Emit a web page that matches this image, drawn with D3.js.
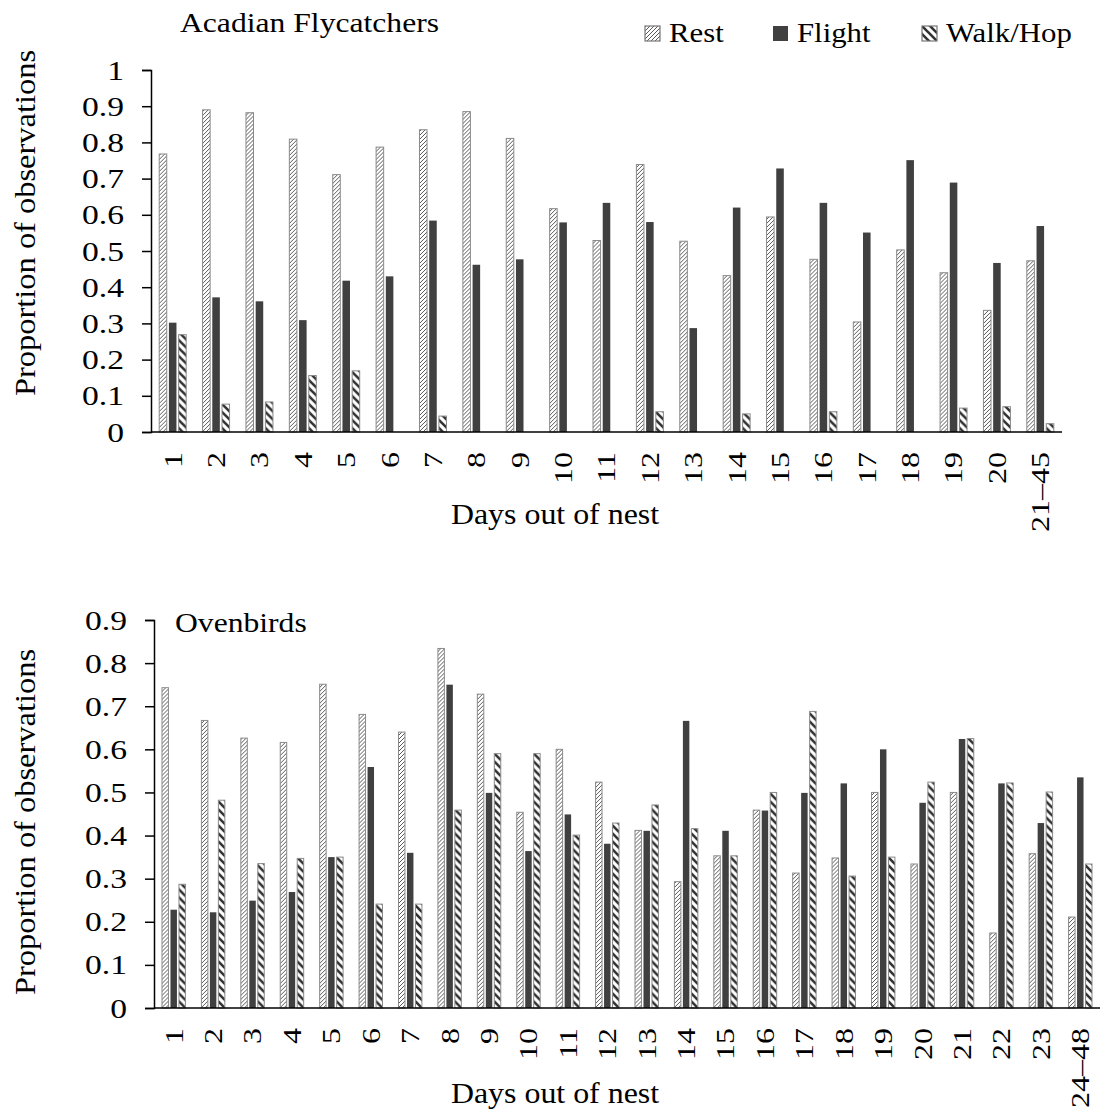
<!DOCTYPE html>
<html>
<head>
<meta charset="utf-8">
<script src="https://cdn.jsdelivr.net/npm/d3@7"></script>
<style>
  body { margin: 0; background: #fff; }
  text { font-family: "Liberation Serif", "Times New Roman", serif; fill: #000; }
</style>
</head>
<body>
<script>
// Acadian Flycatchers
var acadianDays = ['1','2','3','4','5','6','7','8','9','10','11','12','13','14','15','16','17','18','19','20','21–45'];
var acadianRest = [0.768,0.890,0.882,0.809,0.711,0.787,0.835,0.885,0.811,0.617,0.529,0.739,0.527,0.432,0.594,0.477,0.304,0.503,0.440,0.336,0.473];
var acadianFlight = [0.302,0.372,0.361,0.309,0.418,0.430,0.584,0.462,0.477,0.579,0.633,0.580,0.287,0.620,0.728,0.633,0.551,0.751,0.689,0.467,0.569];
var acadianWalk = [0.269,0.077,0.083,0.156,0.169,0,0.044,0,0,0,0,0.056,0,0.050,0,0.056,0,0,0.066,0.070,0.023];
var acadianTicks = [0,0.1,0.2,0.3,0.4,0.5,0.6,0.7,0.8,0.9,1];

// Ovenbirds
var ovenDays = ['1','2','3','4','5','6','7','8','9','10','11','12','13','14','15','16','17','18','19','20','21','22','23','24–48'];
var ovenRest = [0.743,0.667,0.626,0.616,0.751,0.681,0.640,0.834,0.728,0.454,0.600,0.524,0.412,0.293,0.353,0.459,0.313,0.348,0.500,0.334,0.500,0.174,0.358,0.211];
var ovenFlight = [0.228,0.222,0.249,0.269,0.350,0.559,0.360,0.750,0.499,0.364,0.449,0.381,0.411,0.666,0.411,0.458,0.499,0.521,0.600,0.476,0.624,0.521,0.429,0.535];
var ovenWalk = [0.287,0.482,0.335,0.347,0.350,0.241,0.241,0.459,0.590,0.590,0.401,0.429,0.471,0.416,0.353,0.500,0.688,0.306,0.350,0.524,0.625,0.522,0.501,0.334];
var ovenTicks = [0,0.1,0.2,0.3,0.4,0.5,0.6,0.7,0.8,0.9];

var seriesNames = ['Rest','Flight','Walk/Hop'];

var svg = d3.select('body').append('svg').attr('width', 1107).attr('height', 1116);

// fill patterns
var defs = svg.append('defs');
var pRest = defs.append('pattern').attr('id','pRest')
	.attr('patternUnits','userSpaceOnUse').attr('width',4).attr('height',4);
pRest.append('rect').attr('width',4).attr('height',4).attr('fill','#fff');
pRest.append('path').attr('d','M-1,1 L1,-1 M0,4 L4,0 M3,5 L5,3')
	.attr('stroke','#5a5a5a').attr('stroke-width',1);

var pWalk = defs.append('pattern').attr('id','pWalk')
	.attr('patternUnits','userSpaceOnUse').attr('width',8).attr('height',8);
pWalk.append('rect').attr('width',8).attr('height',8).attr('fill','#fff');
pWalk.append('path').attr('d','M-2,-2 L10,10 M-2,6 L2,10 M6,-2 L10,2')
	.attr('stroke','#333').attr('stroke-width',2.6);

var fills = ['url(#pRest)', '#404040', 'url(#pWalk)'];
var strokes = ['#8a8a8a', 'none', '#8a8a8a'];

// text with the glyphs a bit wider than Liberation Serif draws them
function wideText(parent, x, y, rot, size, stretch, anchor, str) {
	return parent.append('g')
		.attr('transform', 'translate(' + x + ',' + y + ') rotate(' + rot + ') scale(' + stretch + ',1)')
		.append('text')
			.attr('text-anchor', anchor)
			.attr('font-size', size)
			.text(str);
}

function drawPanel(cfg) {
	var g = svg.append('g');
	var x = d3.scaleBand().domain(cfg.days).range([cfg.x0, cfg.x1]).paddingInner(cfg.pad).paddingOuter(cfg.pad / 2);
	var xs = d3.scaleBand().domain(seriesNames).range([0, x.bandwidth()]).paddingInner(0.12);
	var y = d3.scaleLinear().domain([0, cfg.max]).range([cfg.y0, cfg.y1]);

	var rows = cfg.days.map((d, i) => ({ day: d, vals: cfg.series.map((s, k) => ({ k: k, v: s[i] })) }));

	var groups = g.selectAll('g.day')
		.data(rows)
		.enter().append('g')
			.attr('class','day')
			.attr('transform', d => 'translate(' + x(d.day) + ',0)');

	groups.selectAll('rect')
		.data(d => d.vals.filter(e => e.v > 0))
		.enter().append('rect')
			.attr('x', d => xs(seriesNames[d.k]) + 0.5)
			.attr('width', xs.bandwidth() - 1)
			.attr('y', d => y(d.v))
			.attr('height', d => y(0) - y(d.v))
			.attr('fill', d => fills[d.k])
			.attr('stroke', d => strokes[d.k])
			.attr('stroke-width', 1);

	// y axis
	var yAxis = g.append('g')
		.attr('transform', 'translate(' + cfg.x0 + ',0)')
		.call(d3.axisLeft(y).tickValues(cfg.ticks).tickSize(9).tickFormat(''));
	yAxis.select('.domain').attr('stroke','#000').attr('stroke-width',1.5);
	yAxis.selectAll('.tick line').attr('stroke','#000').attr('stroke-width',1.5);

	cfg.ticks.forEach(t => {
		wideText(g, cfg.x0 - 27, y(t), 0, 28, 1.2, 'end', d3.format('')(+t.toFixed(1)))
			.attr('dominant-baseline','central');
	});

	// x axis line
	g.append('line')
		.attr('x1', cfg.x0).attr('x2', cfg.x1)
		.attr('y1', y(0)).attr('y2', y(0))
		.attr('stroke','#000').attr('stroke-width',1.5);

	// rotated day labels
	cfg.days.forEach(d => {
		wideText(g, x(d) + x.bandwidth() / 2, y(0) + 20, -90, 26, 1.23, 'end', d)
			.attr('dominant-baseline','central');
	});

	wideText(g, 555, cfg.xTitleY, 0, 29, 1.1, 'middle', 'Days out of nest');

	wideText(g, 26, cfg.yTitleY, -90, 29, 1.12, 'middle', 'Proportion of observations')
		.attr('dominant-baseline','central');

	wideText(g, cfg.titleX, cfg.titleY, 0, 28, 1.13, 'start', cfg.title);
}

drawPanel({
	days: acadianDays, series: [acadianRest, acadianFlight, acadianWalk], ticks: acadianTicks, max: 1,
	x0: 151, x1: 1062, y0: 432, y1: 70, pad: 0.355,
	xTitleY: 524, yTitleY: 223, title: 'Acadian Flycatchers', titleX: 180, titleY: 32
});

drawPanel({
	days: ovenDays, series: [ovenRest, ovenFlight, ovenWalk], ticks: ovenTicks, max: 0.9,
	x0: 154, x1: 1100, y0: 1008, y1: 620, pad: 0.38,
	xTitleY: 1103, yTitleY: 822, title: 'Ovenbirds', titleX: 175, titleY: 632
});

// legend
var legendX = [645, 773, 922];
var legend = svg.append('g');
seriesNames.forEach((name, i) => {
	legend.append('rect')
		.attr('x', legendX[i]).attr('y', 26)
		.attr('width',15).attr('height',15)
		.attr('fill', fills[i])
		.attr('stroke', strokes[i] === 'none' ? 'none' : '#777')
		.attr('stroke-width',1.2);
	wideText(legend, legendX[i] + 24, 42, 0, 28, 1.1, 'start', name);
});
</script>
</body>
</html>
